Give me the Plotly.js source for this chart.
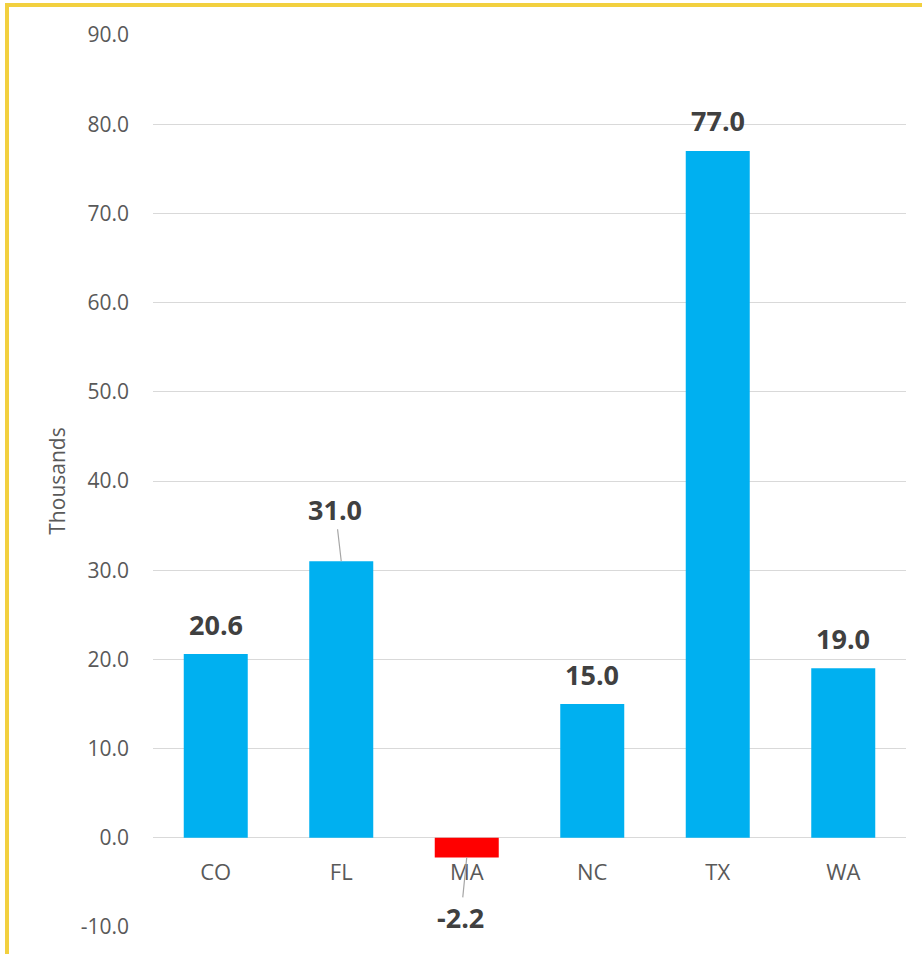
<!DOCTYPE html>
<html>
<head>
<meta charset="utf-8">
<script src="https://cdn.plot.ly/plotly-3.0.1.min.js"></script>
<style>
  html, body { margin: 0; padding: 0; background: #ffffff; overflow: hidden; width: 922px; height: 954px; }
  #frame { position: absolute; left: 5px; top: 3px; border-left: 4px solid #F2D03F; border-top: 4px solid #F2D03F; }
  #chart { width: 913px; height: 947px; }
</style>
</head>
<body>
<div id="frame"><div id="chart"></div></div>
<script>
// Data (thousands)
const states = ['CO', 'FL', 'MA', 'NC', 'TX', 'WA'];
const values = [20.6, 31.0, -2.2, 15.0, 77.0, 19.0];
const yTickValues = [-10, 0, 10, 20, 30, 40, 50, 60, 70, 80, 90];
const yTickText = ['-10.0', '0.0', '10.0', '20.0', '30.0', '40.0', '50.0', '60.0', '70.0', '80.0', '90.0'];

const barColors = values.map(v => v < 0 ? '#FF0000' : '#00B0F0');

const trace = {
  type: 'bar',
  x: states,
  y: values,
  marker: { color: barColors, line: { width: 0 } },
  hoverinfo: 'x+y'
};

const labelFont = { family: 'Open Sans, sans-serif', size: 27, color: '#404040', weight: 'bold' };

const annotations = states.map((s, i) => {
  const v = values[i];
  const txt = '<b>' + v.toFixed(1) + '</b>';
  if (s === 'FL') {
    return { x: s, y: v, xref: 'x', yref: 'y', text: txt, showarrow: true, arrowhead: 0,
             arrowwidth: 1.2, arrowcolor: '#A6A6A6', ax: -6, ay: -52, axref: 'pixel', ayref: 'pixel',
             font: labelFont, standoff: 0 };
  }
  if (s === 'MA') {
    return { x: s, y: v, xref: 'x', yref: 'y', text: txt, showarrow: true, arrowhead: 0,
             arrowwidth: 1.2, arrowcolor: '#A6A6A6', ax: -6, ay: 60, axref: 'pixel', ayref: 'pixel',
             font: labelFont, standoff: 0 };
  }
  return { x: s, y: v, xref: 'x', yref: 'y', text: txt, showarrow: false,
           yanchor: 'middle', yshift: 30, font: labelFont };
});

const layout = {
  width: 913,
  height: 947,
  margin: { l: 144, r: 16, t: 28, b: 27 },
  paper_bgcolor: '#ffffff',
  plot_bgcolor: '#ffffff',
  font: { family: 'Open Sans, sans-serif', size: 21, color: '#595959' },
  showlegend: false,
  bargap: 0.49,
  xaxis: {
    type: 'category',
    anchor: 'free',
    position: 0.1,
    showline: false,
    showgrid: false,
    zeroline: false,
    ticks: '',
    ticklabelstandoff: 19,
    tickfont: { size: 22, color: '#595959' },
    fixedrange: true
  },
  yaxis: {
    range: [-10, 90],
    tickvals: yTickValues,
    ticktext: yTickText,
    showgrid: true,
    gridcolor: '#D9D9D9',
    gridwidth: 1,
    zeroline: false,
    showline: false,
    ticks: '',
    ticklabelstandoff: 23,
    tickfont: { size: 21, color: '#595959' },
    title: { text: 'Thousands', font: { size: 21, color: '#595959' }, standoff: 9 },
    automargin: false,
    fixedrange: true
  },
  annotations: annotations
};

Plotly.newPlot('chart', [trace], layout, { displayModeBar: false, staticPlot: true });
</script>
</body>
</html>
